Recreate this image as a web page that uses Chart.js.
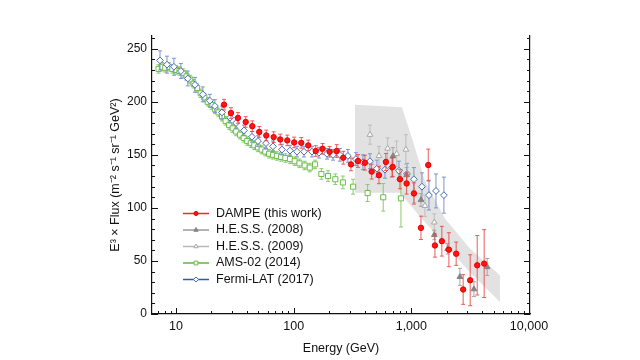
<!DOCTYPE html>
<html>
<head>
<meta charset="utf-8">
<script src="https://cdn.jsdelivr.net/npm/chart.js@4.4.1/dist/chart.umd.min.js"></script>
<style>
  html, body { margin: 0; padding: 0; background: #fff; }
  #wrap { width: 640px; height: 360px; }
</style>
</head>
<body>
<div id="wrap"><canvas id="myChart" width="640" height="360"></canvas></div>
<script>
const FONT = '"Liberation Sans", Arial, Helvetica, sans-serif';

// tick labels
const xTickValues = [10, 100, 1000, 10000];
const yTickValues = [0, 50, 100, 150, 200, 250];

// DAMPE (this work)
const dampeE = [25.6, 29.3, 33.6, 39.1, 44.5, 51.0, 58.5, 67.6, 76.9, 88.2, 101, 116, 133, 154, 176, 202, 232, 264, 307, 352,
  403, 460, 531, 608, 693, 800, 912, 1052, 1207, 1393, 1587, 1818, 2086, 2405, 2758, 3164, 3631, 4160];
const dampeFlux = [197.3, 189.4, 184.8, 181, 177, 171.6, 168.3, 166.7, 164.5, 163.6, 161.7, 161.3, 158.9, 153.6, 155.7, 152.9, 153.6, 147.3, 141, 144.2,
  142.6, 134.2, 130.8, 143.3, 138.6, 127, 123, 113.6, 81.2, 140.4, 64.6, 68.6, 60.6, 56.8, 23.1, 31.8, 45.9, 47.5];
const dampeErr = [5, 5, 5, 5, 5, 5, 5, 5, 5, 5, 5, 5, 5, 5, 5, 5, 6, 6, 6, 6,
  7, 7, 8, 8, 9, 9, 10, 10, 11, 15, 11, 14, 16, 11, 14, 24, 28, 32];

// H.E.S.S. (2008)
const hess08E = [698, 912, 1207, 1567, 2033, 2588, 3404, 4413];
const hess08Flux = [148.8, 131, 107.5, 74.5, 61.5, 35, 23.4, 44.3];
const hess08Err = [8, 7, 6, 4.5, 5, 8, 7, 8];

// H.E.S.S. (2009)
const hess09E = [445, 531, 629, 750, 899, 1059, 1305, 1567];
const hess09Flux = [169, 149, 156, 151, 155, 115, 102, 86.4];
const hess09Err = [9, 9, 10, 12, 14, 10, 10, 8];

// AMS-02 (2014)
const amsE = [7.1, 7.6, 8.1, 8.7, 9.3, 10.0, 10.7, 11.5, 12.3, 13.2, 14.1, 15.1, 16.2, 17.4, 18.6, 20.0, 21.5, 23.0, 24.6, 26.4,
  28.3, 30.3, 32.5, 35.0, 37.6, 40.3, 43.2, 46.3, 49.7, 53.4, 57.4, 61.8, 66.7, 72, 78, 85, 93, 102, 112, 124,
  137, 152, 172, 196, 226, 262, 320, 425, 577, 816];
const amsFlux = [231, 233, 232, 233, 231, 230, 229, 227, 224, 221, 217, 213, 208, 204, 200, 197, 193, 190, 186, 182,
  178, 175, 172, 169, 166, 163, 161, 159, 157, 155, 153, 151, 150, 149, 148, 147, 146, 144, 142, 140,
  138, 141, 132, 130, 127, 124, 120, 114, 110, 109];
const amsErr = [4, 4, 4, 4, 4, 4, 4, 4, 4, 4, 4, 4, 4, 4, 4, 4, 4, 4, 4, 4,
  4, 4, 4, 4, 4, 4, 4, 4, 4, 4, 4, 4, 4, 4, 4, 4, 4, 4, 4, 4,
  4, 4, 5, 5, 5, 6, 7, 8, 13, 27];

// Fermi-LAT (2017)
const fermiE = [7.31, 8.38, 9.6, 11.0, 12.6, 14.5, 16.9, 19.4, 21.4, 24.6, 28.8, 32.4, 37.8, 44.2, 49.7, 58.2, 66.7, 79.6, 93.1, 106.7,
  122.4, 143, 164, 192, 216, 247, 289, 338, 388, 445, 510, 597, 684, 785, 918, 1052, 1231, 1412, 1620, 1892];
const fermiFlux = [239, 235, 233, 229, 222, 216, 207, 201, 196, 190, 185, 180, 173, 167, 163, 161, 158, 155, 154, 153,
  153, 153, 152, 151, 150, 150, 149, 146, 143, 144, 137, 136, 138, 135, 132, 127, 120, 112, 116, 112];
const fermiErr = [9, 8, 8, 7, 7, 7, 7, 6, 6, 6, 5, 5, 5, 5, 5, 5, 5, 5, 5, 5,
  5, 5, 5, 5, 5, 6, 6, 6, 7, 7, 8, 8, 9, 9, 10, 11, 13, 14, 16, 17];

// H.E.S.S. systematic band outline (upper edge then lower edge back)
const bandE = [332, 832, 1032, 1305, 1928, 3148, 5660, 5660, 3148, 1928, 1183, 800, 332];
const bandFlux = [197.3, 194.8, 162.9, 125.5, 89.9, 61.8, 36.5, 11.2, 39.3, 65.5, 91.8, 114.2, 114.2];

const legendLabels = ['DAMPE (this work)', 'H.E.S.S. (2008)', 'H.E.S.S. (2009)', 'AMS-02 (2014)', 'Fermi-LAT (2017)'];

const pts = (xs, ys) => xs.map((x, i) => ({ x: x, y: ys[i] }));

const errorBars = {
  id: 'errorBars',
  beforeDatasetDraw(chart, args) {
    const ds = chart.data.datasets[args.index];
    if (!ds.err) return;
    const { ctx } = chart;
    const x = chart.scales.x, y = chart.scales.y;
    ctx.save();
    ctx.strokeStyle = ds.errColor;
    ctx.lineWidth = 1;
    ctx.beginPath();
    ds.data.forEach((p, i) => {
      const px = x.getPixelForValue(p.x);
      const top = y.getPixelForValue(p.y + ds.err[i]);
      const bot = y.getPixelForValue(Math.max(0, p.y - ds.err[i]));
      ctx.moveTo(px, top); ctx.lineTo(px, bot);
      ctx.moveTo(px - 2, top); ctx.lineTo(px + 2, top);
      ctx.moveTo(px - 2, bot); ctx.lineTo(px + 2, bot);
    });
    ctx.stroke();
    ctx.restore();
  }
};

const innerTicks = {
  id: 'innerTicks',
  afterDraw(chart) {
    const { ctx, chartArea: a, scales: { x, y } } = chart;
    ctx.save();
    ctx.strokeStyle = '#111';
    ctx.lineWidth = 1;
    ctx.beginPath();
    for (let d = 1; d <= 10000; d *= 10) {
      for (let m = 1; m < 10; m++) {
        const v = m * d;
        if (v < x.min || v > x.max) continue;
        const px = Math.round(x.getPixelForValue(v)) + 0.5;
        const len = m === 1 ? 6 : 3;
        ctx.moveTo(px, a.bottom); ctx.lineTo(px, a.bottom - len);
      }
    }
    for (let v = 0; v <= y.max; v += 10) {
      const py = Math.round(y.getPixelForValue(v)) + 0.5;
      const len = v % 50 === 0 ? 6 : 3;
      ctx.moveTo(a.left, py); ctx.lineTo(a.left + len, py);
      ctx.moveTo(a.right, py); ctx.lineTo(a.right - len, py);
    }
    ctx.stroke();
    ctx.restore();
  }
};

const legendBox = {
  id: 'legendBox',
  afterDraw(chart) {
    const { ctx, chartArea: a } = chart;
    ctx.save();
    ctx.font = '12.5px ' + FONT;
    ctx.textBaseline = 'middle';
    legendLabels.forEach((label, i) => {
      const ds = chart.data.datasets[i];
      const yy = a.top + 177.5 + i * 16.5;
      const x0 = a.left + 31;
      ctx.strokeStyle = ds.legendLine;
      ctx.lineWidth = 1.5;
      ctx.beginPath(); ctx.moveTo(x0, yy); ctx.lineTo(x0 + 26, yy); ctx.stroke();
      ctx.fillStyle = ds.backgroundColor;
      ctx.strokeStyle = ds.borderColor;
      ctx.lineWidth = 1;
      Chart.helpers.drawPoint(ctx, { pointStyle: ds.pointStyle, radius: ds.pointRadius * 0.75, rotation: 0, borderWidth: 1 }, x0 + 13, yy);
      ctx.fillStyle = '#111';
      ctx.fillText(label, x0 + 33, yy);
    });
    ctx.restore();
  }
};

const ctx = document.getElementById('myChart').getContext('2d');
const myChart = new Chart(ctx, {
  type: 'scatter',
  data: {
    datasets: [
      {
        label: legendLabels[0], data: pts(dampeE, dampeFlux), err: dampeErr,
        pointStyle: 'circle', pointRadius: 2.7, backgroundColor: '#ff1414', borderColor: '#e80000', borderWidth: 1,
        errColor: 'rgba(236,64,64,0.85)', legendLine: '#ee2a2a', order: 1
      },
      {
        label: legendLabels[1], data: pts(hess08E, hess08Flux), err: hess08Err,
        pointStyle: 'triangle', pointRadius: 3.3, backgroundColor: '#858585', borderColor: '#858585', borderWidth: 1,
        errColor: '#a6a6a6', legendLine: '#9a9a9a', order: 2
      },
      {
        label: legendLabels[2], data: pts(hess09E, hess09Flux), err: hess09Err,
        pointStyle: 'triangle', pointRadius: 3.3, backgroundColor: '#ffffff', borderColor: '#a8a8a8', borderWidth: 1,
        errColor: '#bdbdbd', legendLine: '#b8b8b8', order: 3
      },
      {
        label: legendLabels[3], data: pts(amsE, amsFlux), err: amsErr,
        pointStyle: 'rect', pointRadius: 3.6, backgroundColor: '#ffffff', borderColor: '#6cbf4a', borderWidth: 1,
        errColor: '#8acb6c', legendLine: '#5cb83a', order: 5
      },
      {
        label: legendLabels[4], data: pts(fermiE, fermiFlux), err: fermiErr,
        pointStyle: 'rectRot', pointRadius: 3.4, backgroundColor: '#ffffff', borderColor: '#4a6db5', borderWidth: 1,
        errColor: '#7d95c9', legendLine: '#3358a8', order: 4
      },
      {
        type: 'line', label: 'band', data: pts(bandE, bandFlux),
        showLine: true, fill: 'shape', backgroundColor: '#e2e2e2', borderWidth: 0, borderColor: 'rgba(0,0,0,0)',
        pointRadius: 0, tension: 0, order: 10
      }
    ]
  },
  options: {
    responsive: false,
    animation: false,
    events: [],
    layout: { padding: { top: 36, right: 0, left: 0, bottom: 0 } },
    plugins: {
      legend: { display: false },
      tooltip: { enabled: false }
    },
    scales: {
      x: {
        type: 'logarithmic',
        min: 6.25, max: 10200,
        afterBuildTicks: (s) => { s.ticks = xTickValues.map(v => ({ value: v })); },
        afterFit: (s) => { s.height = 46; },
        grid: { display: false, drawTicks: false },
        border: { display: true, color: '#111', width: 1.2 },
        ticks: {
          autoSkip: false, maxRotation: 0, padding: 5, color: '#111',
          font: { family: FONT, size: 12.5 },
          callback: (v) => Number(v).toLocaleString('en-US')
        },
        title: {
          display: true, text: 'Energy (GeV)', color: '#111',
          font: { family: FONT, size: 12.5 }, padding: { top: 0, bottom: 4 }
        }
      },
      y: {
        position: 'left',
        min: 0, max: 262,
        afterBuildTicks: (s) => { s.ticks = yTickValues.map(v => ({ value: v })); },
        afterFit: (s) => { s.width = 152; },
        grid: { display: false, drawTicks: false },
        border: { display: true, color: '#111', width: 1.2 },
        ticks: { padding: 5, color: '#111', font: { family: FONT, size: 12 } },
        title: {
          display: true, text: 'E³ × Flux (m⁻² s⁻¹ sr⁻¹ GeV²)', color: '#111',
          font: { family: FONT, size: 12.5 }, padding: { top: 108, bottom: 0 }
        }
      },
      y2: {
        position: 'right',
        min: 0, max: 262,
        afterFit: (s) => { s.width = 110; },
        grid: { display: false, drawTicks: false },
        border: { display: true, color: '#111', width: 1.2 },
        ticks: { display: false }
      }
    }
  },
  plugins: [errorBars, innerTicks, legendBox]
});
</script>
</body>
</html>
